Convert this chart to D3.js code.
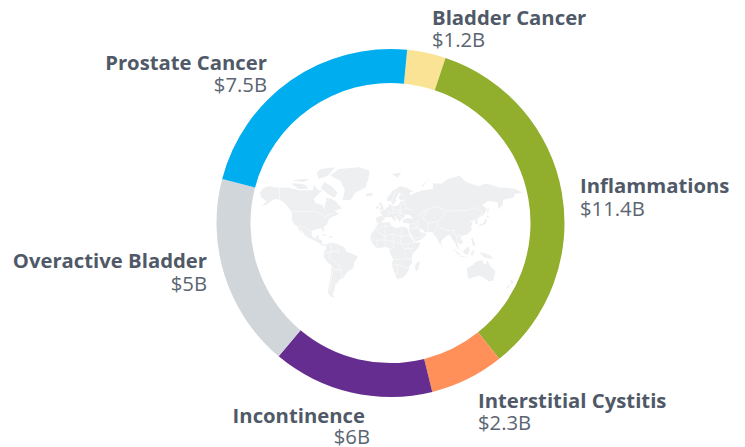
<!DOCTYPE html>
<html><head><meta charset="utf-8">
<script src="https://cdn.jsdelivr.net/npm/d3@7"></script>
<style>html,body{margin:0;padding:0;background:#fff}svg{display:block}text{font-family:"Open Sans",sans-serif}</style>
</head><body><svg id="c" width="745" height="447"></svg>
<script>
const categories=["Bladder Cancer","Inflammations","Interstitial Cystitis","Incontinence","Overactive Bladder","Prostate Cancer"];
const valueLabels=["$1.2B","$11.4B","$2.3B","$6B","$5B","$7.5B"];
// arc sizes as drawn in the picture (the source swaps the Incontinence and Overactive Bladder slices)
const arcValues=[1.2,11.4,2.3,5,6,7.5];
const colors=["#fbe395","#91ae2c","#ff905a","#652d90","#d1d6da","#00adee"];
const land=[
[[-168,66],[-162,70],[-156,71],[-141,70],[-128,70],[-115,68],[-108,68],[-96,68],[-94,72],[-88,68],[-82,68],[-86,66],[-94,61],[-92,57],[-82,55],[-80,51],[-79,55],[-77,60],[-78,62],[-70,61],[-65,59],[-56,52],[-66,50],[-60,46],[-66,44],[-70,43],[-74,40],[-76,35],[-81,31],[-80,25],[-82,27],[-84,30],[-90,29],[-97,27],[-97,22],[-95,18],[-91,18],[-90,21],[-87,21],[-88,16],[-83,15],[-83,10],[-78,9],[-80,7],[-85,10],[-92,14],[-97,16],[-105,20],[-109,25],[-113,31],[-110,23],[-115,29],[-117,32],[-121,35],[-124,40],[-124,48],[-130,54],[-137,59],[-147,61],[-152,59],[-158,56],[-165,54],[-158,59],[-165,62]],
[[-72,12],[-62,10],[-52,5],[-50,0],[-44,-2],[-35,-6],[-35,-9],[-39,-14],[-40,-22],[-48,-26],[-54,-34],[-58,-35],[-62,-39],[-65,-42],[-66,-47],[-69,-52],[-65,-55],[-71,-54],[-75,-50],[-73,-40],[-71,-30],[-70,-18],[-76,-14],[-81,-6],[-80,0],[-77,4],[-78,9]],
[[-17,15],[-17,21],[-13,27],[-9,32],[-6,36],[3,37],[10,37],[11,33],[19,30],[25,32],[32,31],[34,28],[37,20],[43,12],[51,12],[48,5],[41,-2],[39,-7],[40,-15],[35,-20],[35,-24],[32,-29],[26,-34],[19,-35],[15,-26],[12,-17],[14,-10],[9,-1],[9,4],[4,6],[-4,5],[-8,4],[-13,9]],
[[-9,37],[-9,43],[-2,44],[-1,46],[-5,48],[2,51],[8,54],[8,57],[11,55],[14,54],[21,55],[24,59],[30,60],[23,60],[21,63],[25,65],[22,66],[17,61],[18,59],[13,55],[11,59],[5,59],[6,62],[14,68],[24,71],[32,70],[41,67],[35,66],[38,64],[44,66],[54,68],[68,69],[68,73],[80,73],[88,76],[104,78],[113,74],[130,71],[140,73],[160,70],[170,70],[180,69],[190,66],[180,65],[177,62],[163,60],[163,56],[157,51],[156,58],[143,59],[135,55],[141,52],[138,46],[132,43],[128,39],[129,35],[126,35],[125,39],[121,39],[118,38],[122,37],[120,32],[121,28],[114,22],[108,21],[106,18],[109,12],[105,9],[101,13],[103,2],[100,6],[98,12],[94,16],[91,22],[87,21],[80,15],[78,8],[73,18],[70,21],[67,25],[57,25],[56,27],[50,30],[48,30],[52,24],[56,25],[59,22],[52,16],[44,13],[39,21],[35,28],[36,36],[31,36],[27,37],[27,40],[33,42],[41,41],[37,45],[31,46],[28,42],[24,40],[23,37],[19,42],[14,45],[18,40],[16,38],[11,43],[4,43],[0,39],[-2,37],[-5,36]],
[[114,-22],[122,-18],[126,-14],[131,-12],[136,-12],[136,-15],[140,-17],[142,-11],[146,-19],[153,-26],[150,-37],[144,-38],[138,-34],[131,-31],[124,-33],[116,-35],[115,-30]],
[[-55,60],[-44,60],[-38,66],[-24,70],[-20,76],[-18,81],[-32,83],[-60,82],[-72,78],[-58,75],[-52,68]],
[[-80,74],[-70,71],[-62,66],[-66,62],[-75,65],[-85,70]],
[[-125,73],[-115,73],[-105,72],[-102,69],[-115,69]],
[[-90,80],[-85,82],[-65,83],[-75,78],[-88,76]],
[[-124,75],[-110,76],[-100,76],[-108,74]],
[[-24,65],[-14,66],[-14,64],[-22,63]],
[[-5,50],[1,51],[0,54],[-3,58],[-6,57],[-3,54]],
[[-10,52],[-6,52],[-6,55],[-9,54]],
[[-84,22],[-75,20],[-78,22],[-82,23]],
[[-74,18],[-68,18],[-70,20],[-73,20]],
[[131,32],[136,34],[140,35],[141,40],[140,41],[136,36],[131,34]],
[[141,42],[145,43],[142,45]],
[[95,5],[104,-3],[106,-6],[101,-3]],
[[105,-7],[115,-8],[114,-7],[106,-6]],
[[109,1],[117,7],[118,1],[116,-4],[110,-3]],
[[119,-5],[121,1],[125,1],[122,-5]],
[[120,18],[122,18],[124,13],[126,7],[122,8],[121,13]],
[[131,-1],[141,-3],[147,-6],[150,-10],[143,-9],[138,-8]],
[[44,-25],[47,-25],[50,-15],[49,-12],[44,-17]],
[[173,-35],[178,-38],[175,-41],[174,-38]],
[[167,-46],[171,-45],[174,-41],[170,-43]],
[[80,9],[82,7],[80,6]],
[[12,79],[25,80],[20,77]],
[[52,71],[58,74],[68,77],[60,75],[55,71]],
[[142,46],[144,50],[143,54],[142,50]]
];
const borders=[
[[-141,70],[-141,60]],[[-124,49],[-95,49],[-83,46],[-79,43],[-75,45],[-67,47]],[[-117,32],[-106,31],[-97,26]],[[-92,15],[-90,18],[-88,18]],
[[-72,12],[-70,0],[-74,-8],[-69,-11],[-58,-20],[-57,-30],[-53,-33]],[[-70,-18],[-68,-23],[-70,-34],[-72,-50]],[[-60,5],[-60,0],[-70,0]],[[-80,-3],[-70,0]],[[-68,-23],[-58,-24]],
[[-13,27],[-1,32],[10,33]],[[-9,27],[3,19],[12,23],[25,20],[37,22]],[[25,32],[25,20],[24,10],[30,4],[41,4]],[[3,37],[3,19],[3,6]],[[12,23],[15,13],[14,5],[9,4]],[[-17,15],[3,15],[15,13],[24,10],[34,10],[43,12]],[[14,-10],[22,-11],[30,-9],[40,-11]],[[12,-17],[24,-18],[33,-22]],[[20,-18],[20,-29],[17,-29]],[[30,4],[30,-9]],[[34,10],[34,4],[41,-2]],[[-8,4],[-8,15]],
[[-2,43],[3,43]],[[2,51],[8,48],[7,44]],[[8,48],[13,47],[14,54]],[[14,51],[24,50],[24,55],[28,60]],[[24,50],[22,44],[28,42]],[[13,47],[22,48],[30,46]],[[40,50],[32,52],[24,50]],[[28,60],[32,52]],[[12,59],[18,69]],[[24,66],[30,60]],
[[48,42],[50,46],[60,51],[72,54],[87,49],[98,50],[116,50],[125,53],[135,48],[131,43]],[[87,49],[80,42],[74,38],[75,33],[79,30],[88,27],[97,28],[98,22],[100,20],[106,22]],[[60,51],[54,41],[61,36],[74,38]],[[61,36],[61,30],[62,25]],[[75,33],[71,28],[68,24]],[[44,37],[48,38],[46,30]],[[36,33],[41,37],[46,30],[39,30],[35,30]],[[42,17],[52,19],[56,24]],[[97,28],[92,22]],[[125,40],[130,42]],[[100,20],[101,14],[104,10]],[[106,22],[106,14]],
[[141,-3],[141,-9]]
];
const layout=[
{x:432,y:25,vx:432,vy:47,a:"start"},
{x:580,y:193,vx:580,vy:216,a:"start"},
{x:478,y:408,vx:478,vy:430,a:"start"},
{x:365,y:423,vx:370,vy:444,a:"end"},
{x:207,y:268,vx:207,vy:291,a:"end"},
{x:267,y:70,vx:267,vy:92,a:"end"}
];
const svg=d3.select("#c");
const cx=390.5,cy=223,rOut=174,rIn=140;
// Miller cylindrical map
const kx=42.1,ky=43.1,mx=383,my=251.5,rad=Math.PI/180;
const miller=d3.geoTransform({point(lon,lat){
  this.stream.point(mx+kx*lon*rad, my-ky*1.25*Math.log(Math.tan(Math.PI/4+0.4*lat*rad)));
}});
const path=d3.geoPath(miller);
const map=svg.append("g");
map.selectAll("path.land").data(land).join("path").attr("class","land")
  .attr("d",r=>path({type:"Polygon",coordinates:[[...r,r[0]]]})).attr("fill","#eeeff1");
map.selectAll("path.border").data(borders).join("path").attr("class","border")
  .attr("d",r=>path({type:"LineString",coordinates:r})).attr("fill","none").attr("stroke","#fff").attr("stroke-width",0.5);
// Ring
const pie=d3.pie().sort(null).startAngle(5.5*rad).endAngle((360+5.5)*rad);
const arc=d3.arc().innerRadius(rIn).outerRadius(rOut);
svg.append("g").attr("transform",`translate(${cx},${cy})`).selectAll("path")
  .data(pie(arcValues)).join("path").attr("d",arc).attr("fill",(d,i)=>colors[i]);
// Labels
const g=svg.append("g");
categories.forEach((c,i)=>{
  const l=layout[i];
  g.append("text").attr("x",l.x).attr("y",l.y).attr("text-anchor",l.a)
    .attr("font-size",20.3).attr("font-weight",700).attr("fill","#4f5967").text(c);
  g.append("text").attr("x",l.vx).attr("y",l.vy).attr("text-anchor",l.a)
    .attr("font-size",20.3).attr("fill","#5a6571").text(valueLabels[i]);
});
</script></body></html>
